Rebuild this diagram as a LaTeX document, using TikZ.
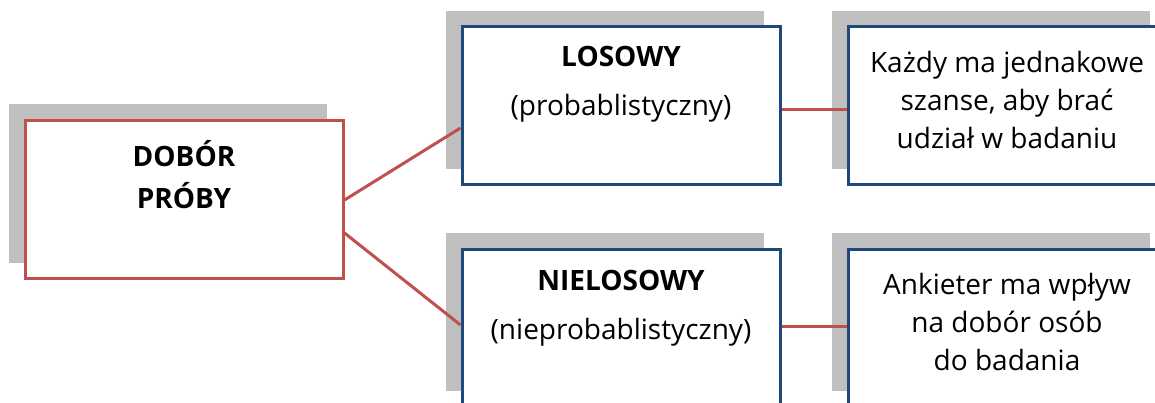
\documentclass[tikz,border=0pt]{standalone}
\usepackage{fontspec}
\setmainfont{Open Sans}
\usetikzlibrary{shadows}
\definecolor{boxred}{HTML}{C0504D}
\definecolor{boxblue}{HTML}{1F497D}
\definecolor{shadowgray}{HTML}{BFBFBF}
\begin{document}
\begin{tikzpicture}[x=1pt,y=-1pt,
  basebox/.style={rectangle, line width=3pt, fill=white, minimum width=318pt, minimum height=158pt, inner sep=0pt,
    general shadow={fill=shadowgray, shadow xshift=-16pt, shadow yshift=16pt}},
  redbox/.style={basebox, draw=boxred},
  bluebox/.style={basebox, draw=boxblue},
  conn/.style={draw=boxred, line width=3pt},
  txt/.style={align=center, font=\fontsize{28pt}{38pt}\selectfont, inner sep=0pt}
]
\useasboundingbox (0,0) rectangle (1155,403);
\node[redbox] (main) at (184,199.5) {};
\node[bluebox] (los) at (621,106) {};
\node[bluebox] (nlos) at (621,328) {};
\node[bluebox] (rt) at (1007,106) {};
\node[bluebox] (rb) at (1007,328) {};

\node[txt] (maintxt) at (184,175) {\bfseries DOBÓR\\[4pt]\bfseries PRÓBY};
\node[txt] (lostxt) at (621,84.5) {\bfseries LOSOWY\\[11pt](probablistyczny)};
\node[txt] (nlostxt) at (621,308.5) {\bfseries NIELOSOWY\\[11pt](nieprobablistyczny)};
\node[txt] (rttxt) at (1007,100.5) {Każdy ma jednakowe\\szanse, aby brać\\udział w badaniu};
\node[txt] (rbtxt) at (1007,322) {Ankieter ma wpływ\\na dobór osób\\do badania};

\draw[conn] ([yshift=-0.5pt]main.east) -- ([yshift=-22pt]los.west);
\draw[conn] ([yshift=-33.5pt]main.east) -- ([yshift=3pt]nlos.west);
\draw[conn] ([yshift=-4pt]los.east) -- ([yshift=-4pt]rt.west);
\draw[conn] ([yshift=2pt]nlos.east) -- ([yshift=2pt]rb.west);
\end{tikzpicture}
\end{document}
